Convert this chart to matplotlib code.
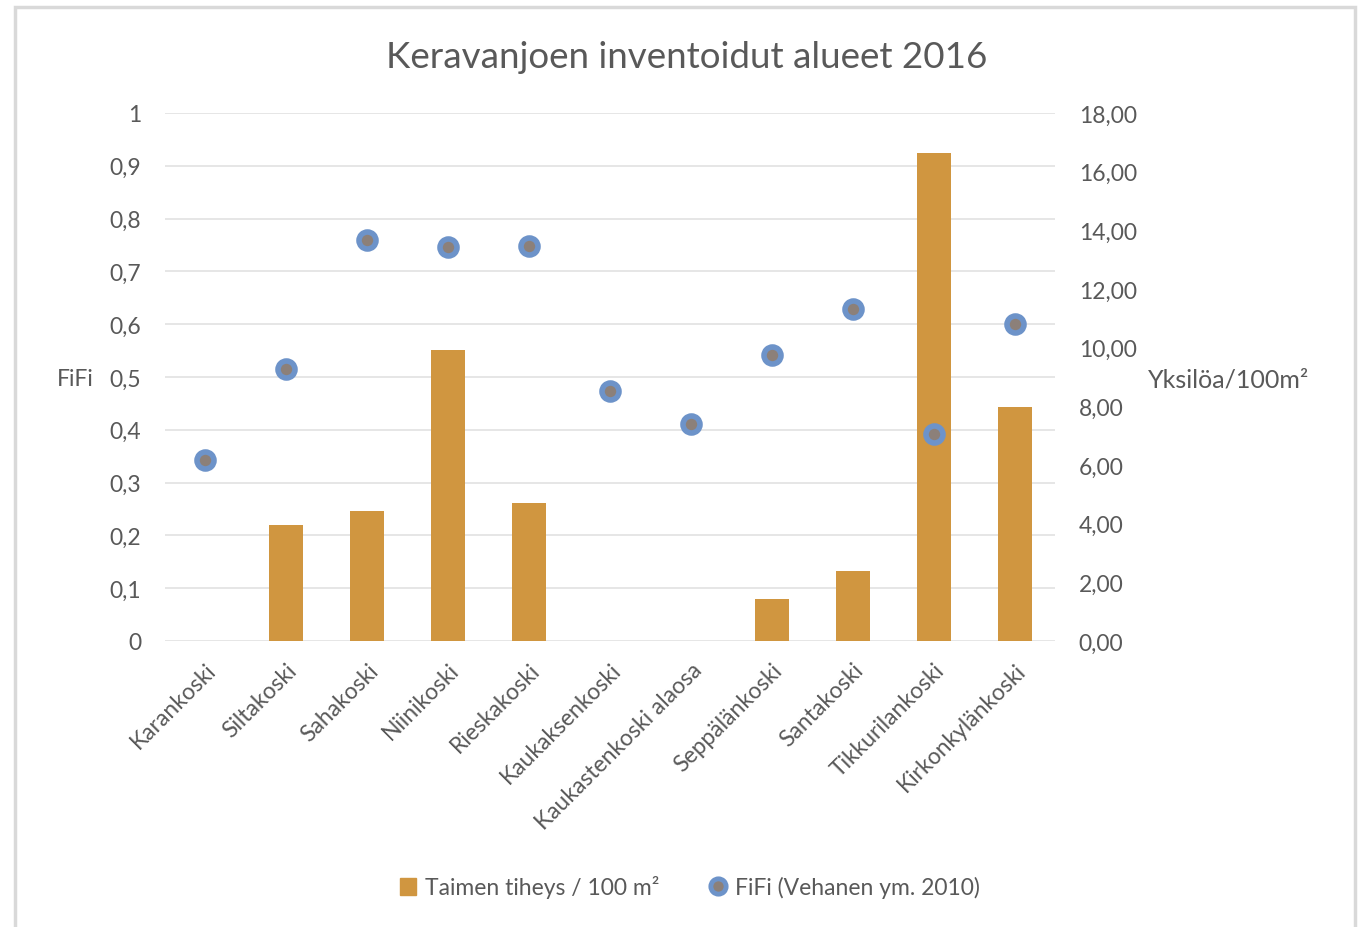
import matplotlib
matplotlib.use("Agg")
import matplotlib.pyplot as plt
from matplotlib.patches import Rectangle
from matplotlib.ticker import FuncFormatter
from matplotlib.lines import Line2D
import numpy as np

plt.rcParams['font.family'] = ['Lato', 'DejaVu Sans']

# data
sites = ['Karankoski', 'Siltakoski', 'Sahakoski', 'Niinikoski', 'Rieskakoski',
         'Kaukaksenkoski', 'Kaukastenkoski alaosa', 'Seppälänkoski', 'Santakoski',
         'Tikkurilankoski', 'Kirkonkylänkoski']
density = [0, 3.95, 4.43, 9.92, 4.70, 0, 0, 1.43, 2.39, 16.64, 7.98]
fifi = [0.343, 0.515, 0.759, 0.746, 0.748, 0.473, 0.411, 0.542, 0.629, 0.392, 0.600]

bar_color = '#D09640'
dot_edge = '#6D93C9'
dot_face = '#8C8079'
txt = '#595959'
grid_c = '#E4E4E4'
fs = 16.5

fig = plt.figure(figsize=(13.58, 9.28), dpi=100)
fig.patches.append(Rectangle((15 / 1358, -0.05), 1340 / 1358, 1.05 - 8 / 928,
                             transform=fig.transFigure, fill=False,
                             edgecolor='#D9D9D9', linewidth=2.5))

ax = fig.add_axes([165 / 1358, 1 - 642 / 928, 890 / 1358, 528 / 928])
ax2 = ax.twinx()
x = np.arange(len(sites))

left_ticks = np.arange(0, 1.01, 0.1)
ymax2 = 18

# gridlines follow the left axis, drawn under the bars
for t in left_ticks:
    ax2.axhline(t * ymax2, color=grid_c, linewidth=1.3, zorder=0)

ax2.bar(x, density, width=0.42, color=bar_color, zorder=2)
ax2.set_ylim(0, ymax2)
ax2.set_yticks(np.arange(0, 19, 2))
ax2.yaxis.set_major_formatter(FuncFormatter(lambda v, p: f"{v:.2f}".replace('.', ',')))

ax.set_ylim(0, 1)
ax.set_yticks(left_ticks)
ax.yaxis.set_major_formatter(FuncFormatter(
    lambda v, p: '0' if v == 0 else ('1' if abs(v - 1) < 1e-9 else f"{v:.1f}".replace('.', ','))))
ax.set_xlim(-0.5, len(sites) - 0.5)

# scatter on top of bars
ax.set_zorder(ax2.get_zorder() + 1)
ax.patch.set_visible(False)
ax.scatter(x, fifi, s=150, facecolor=dot_face, edgecolor=dot_edge, linewidth=4, zorder=5)

for a in (ax, ax2):
    for s in a.spines.values():
        s.set_visible(False)
    a.tick_params(length=0, labelsize=fs, colors=txt)
ax.tick_params(axis='y', pad=17)
ax2.tick_params(axis='y', pad=17)

ax.set_xticks(x)
ax.set_xticklabels(sites, rotation=45, ha='right', rotation_mode='anchor', fontsize=fs, color=txt)
ax.tick_params(axis='x', pad=13)

fig.text(57 / 1358, 1 - 380 / 928, 'FiFi', fontsize=fs, color=txt, va='center', ha='left')
fig.text(1148 / 1358, 1 - 380 / 928, 'Yksilöa/100m²', fontsize=18, color=txt, va='center', ha='left')

fig.text(687 / 1358, 1 - 57 / 928, 'Keravanjoen inventoidut alueet 2016', fontsize=26.5,
         color=txt, ha='center', va='center')

handles = [Rectangle((0, 0), 1, 1, color=bar_color),
           Line2D([], [], marker='o', linestyle='none', markersize=11,
                  markerfacecolor=dot_face, markeredgecolor=dot_edge, markeredgewidth=3.5)]
fig.legend(handles, ['Taimen tiheys / 100 m²', 'FiFi (Vehanen ym. 2010)'],
           loc='center', bbox_to_anchor=(690 / 1358, 1 - 888 / 928), ncol=2,
           frameon=False, fontsize=fs, labelcolor=txt, handlelength=0.7,
           handletextpad=0.4, columnspacing=2.2)

fig.savefig('out.png', dpi=100)
